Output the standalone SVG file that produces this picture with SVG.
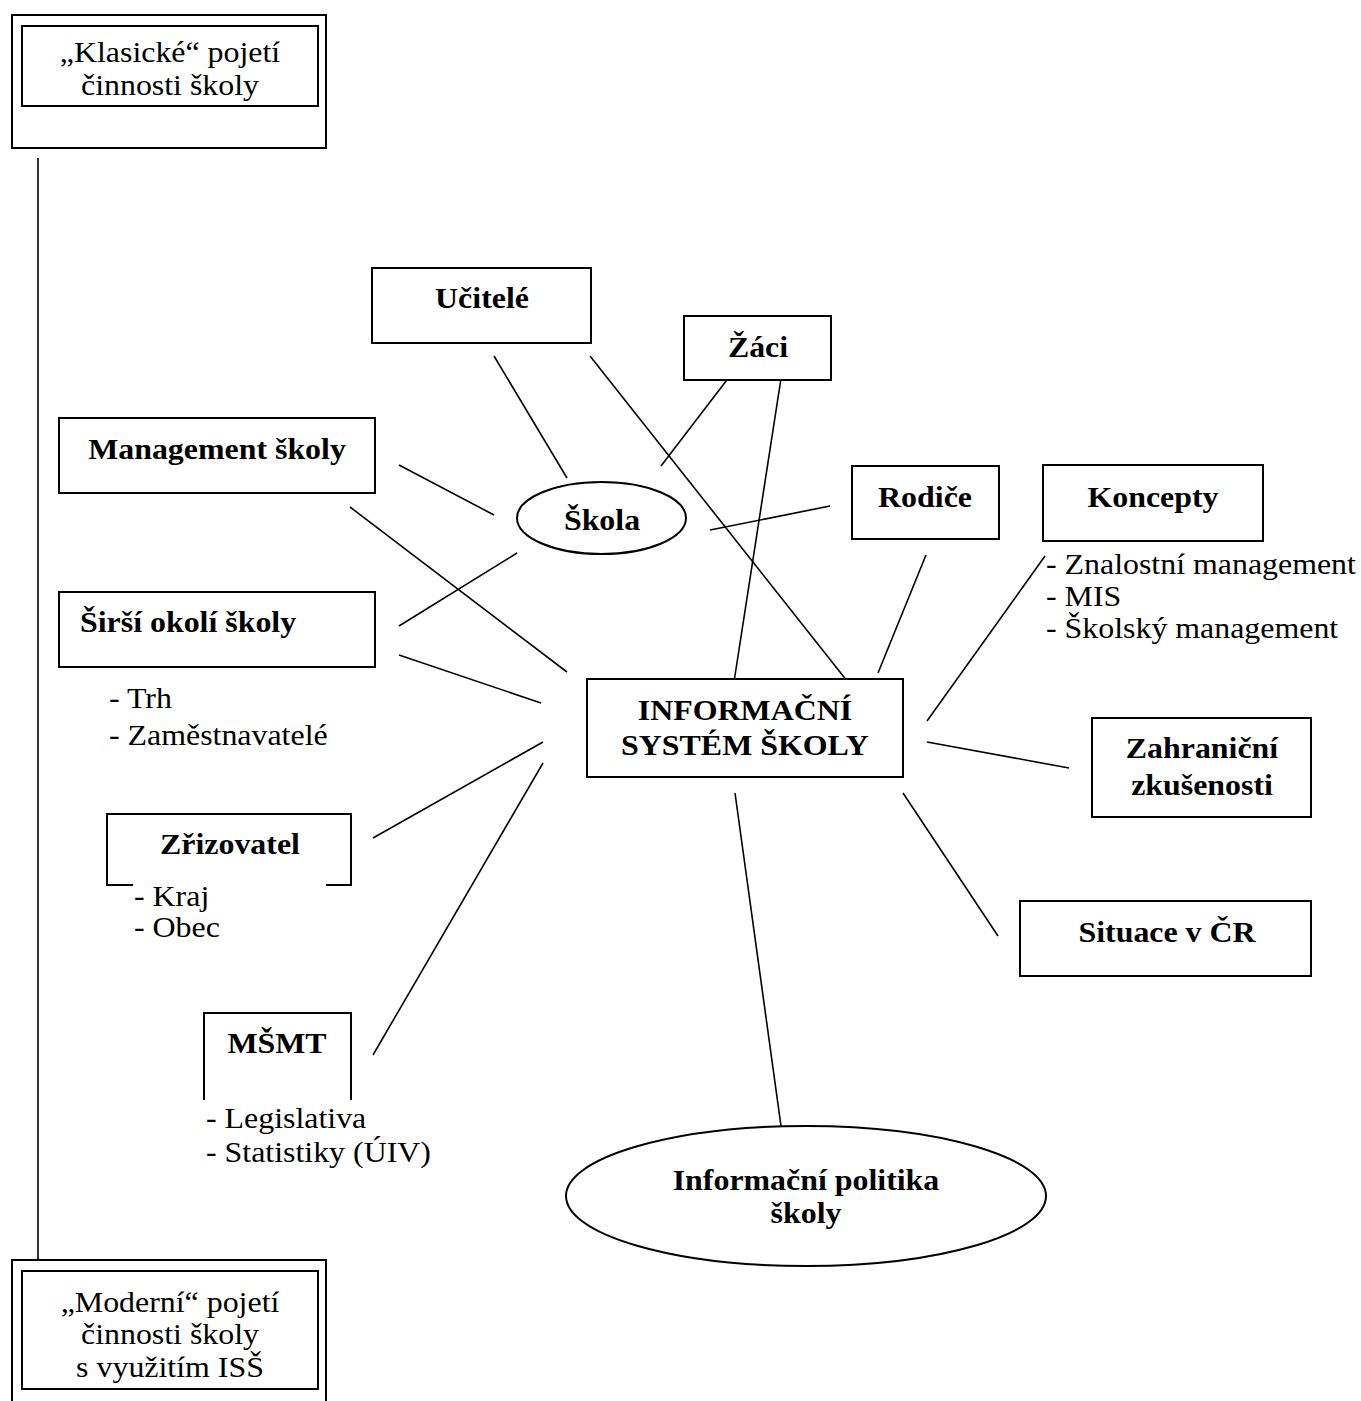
<svg xmlns="http://www.w3.org/2000/svg" width="1361" height="1401" viewBox="0 0 1361 1401">
  <style>
    .box { fill: #fff; stroke: #000; stroke-width: 2; }
    .open { fill: none; stroke: #000; stroke-width: 2; }
    .ln { stroke: #000; stroke-width: 1.6; fill: none; }
    text { font-family: "Liberation Serif", "Times New Roman", serif; font-size: 29px; fill: #000; }
    .b { font-weight: bold; }
    .c { text-anchor: middle; }
  </style>
  <rect width="1361" height="1401" fill="#fff"/>

  <!-- timeline from classic to modern view -->
  <g id="timeline">
    <line class="ln" x1="38" y1="158" x2="38" y2="1260"/>
  </g>

  <!-- all labels use a slightly widened serif face: matrix(1.1 0 0 1 x y) -->
  <g id="klasicke">
    <rect class="box" x="12" y="15" width="314" height="133"/>
    <rect class="box" x="22" y="26" width="296" height="80"/>
    <text class="c" transform="matrix(1.1 0 0 1 170 62)">„Klasické“ pojetí</text>
    <text class="c" transform="matrix(1.1 0 0 1 170 95)">činnosti školy</text>
  </g>

  <g id="moderni">
    <rect class="box" x="12" y="1260" width="314" height="160"/>
    <rect class="box" x="22" y="1271" width="296" height="118"/>
    <text class="c" transform="matrix(1.1 0 0 1 170 1312)">„Moderní“ pojetí</text>
    <text class="c" transform="matrix(1.1 0 0 1 170 1344)">činnosti školy</text>
    <text class="c" transform="matrix(1.1 0 0 1 170 1377)">s využitím ISŠ</text>
  </g>

  <!-- connectors -->
  <g id="connectors">
    <line class="ln" x1="494" y1="356" x2="567" y2="478"/>
    <line class="ln" x1="590" y1="356" x2="855" y2="691"/>
    <line class="ln" x1="733" y1="372" x2="661" y2="466"/>
    <line class="ln" x1="782" y1="372" x2="734" y2="682"/>
    <line class="ln" x1="399" y1="465" x2="494" y2="515"/>
    <line class="ln" x1="350" y1="507" x2="567" y2="672"/>
    <line class="ln" x1="399" y1="626" x2="517" y2="553"/>
    <line class="ln" x1="399" y1="655" x2="541" y2="703"/>
    <line class="ln" x1="710" y1="530" x2="830" y2="506"/>
    <line class="ln" x1="926" y1="555" x2="878" y2="673"/>
    <line class="ln" x1="1045" y1="556" x2="927" y2="721"/>
    <line class="ln" x1="927" y1="742" x2="1069" y2="768"/>
    <line class="ln" x1="903" y1="793" x2="998" y2="936"/>
    <line class="ln" x1="543" y1="742" x2="373" y2="838"/>
    <line class="ln" x1="543" y1="763" x2="373" y2="1055"/>
    <line class="ln" x1="735" y1="793" x2="781" y2="1126"/>
  </g>

  <g id="ucitele">
    <rect class="box" x="372" y="268" width="219" height="75"/>
    <text class="b c" transform="matrix(1.1 0 0 1 482 308)">Učitelé</text>
  </g>

  <g id="zaci">
    <rect class="box" x="684" y="316" width="147" height="64"/>
    <text class="b c" transform="matrix(1.1 0 0 1 758 357)">Žáci</text>
  </g>

  <g id="management">
    <rect class="box" x="59" y="418" width="316" height="75"/>
    <text class="b c" transform="matrix(1.1 0 0 1 217 459)">Management školy</text>
  </g>

  <g id="sirsi-okoli">
    <rect class="box" x="59" y="592" width="316" height="75"/>
    <text class="b" transform="matrix(1.1 0 0 1 80 632)">Širší okolí školy</text>
    <text transform="matrix(1.1 0 0 1 109 708)">- Trh</text>
    <text transform="matrix(1.1 0 0 1 109 745)">- Zaměstnavatelé</text>
  </g>

  <g id="skola">
    <ellipse class="box" cx="601.5" cy="518" rx="84.5" ry="36"/>
    <text class="b c" transform="matrix(1.1 0 0 1 602 530)">Škola</text>
  </g>

  <g id="rodice">
    <rect class="box" x="852" y="466" width="147" height="73"/>
    <text class="b c" transform="matrix(1.1 0 0 1 925 507)">Rodiče</text>
  </g>

  <g id="koncepty">
    <rect class="box" x="1043" y="465" width="220" height="76"/>
    <text class="b c" transform="matrix(1.1 0 0 1 1153 507)">Koncepty</text>
    <text transform="matrix(1.1 0 0 1 1046 574)">- Znalostní management</text>
    <text transform="matrix(1.1 0 0 1 1046 606)">- MIS</text>
    <text transform="matrix(1.1 0 0 1 1046 638)">- Školský management</text>
  </g>

  <g id="iss">
    <rect class="box" x="587" y="679" width="316" height="98"/>
    <text class="b c" transform="matrix(1.1 0 0 1 745 720)">INFORMAČNÍ</text>
    <text class="b c" transform="matrix(1.1 0 0 1 745 755)">SYSTÉM ŠKOLY</text>
  </g>

  <g id="zahranicni">
    <rect class="box" x="1092" y="718" width="219" height="99"/>
    <text class="b c" transform="matrix(1.1 0 0 1 1202 758)">Zahraniční</text>
    <text class="b c" transform="matrix(1.1 0 0 1 1202 795)">zkušenosti</text>
  </g>

  <g id="situace">
    <rect class="box" x="1020" y="901" width="291" height="75"/>
    <text class="b c" transform="matrix(1.1 0 0 1 1167 942)">Situace v ČR</text>
  </g>

  <g id="zrizovatel">
    <path class="open" d="M133 885 H107 V814 H351 V885 H326"/>
    <text class="b c" transform="matrix(1.1 0 0 1 230 854)">Zřizovatel</text>
    <text transform="matrix(1.1 0 0 1 134 906)">- Kraj</text>
    <text transform="matrix(1.1 0 0 1 134 937)">- Obec</text>
  </g>

  <g id="msmt">
    <path class="open" d="M204 1100 V1013 H351 V1100"/>
    <text class="b c" transform="matrix(1.1 0 0 1 277 1053)">MŠMT</text>
    <text transform="matrix(1.1 0 0 1 206 1128)">- Legislativa</text>
    <text transform="matrix(1.1 0 0 1 206 1162)">- Statistiky (ÚIV)</text>
  </g>

  <g id="informacni-politika">
    <ellipse class="box" cx="806" cy="1196" rx="240" ry="70"/>
    <text class="b c" transform="matrix(1.1 0 0 1 806 1190)">Informační politika</text>
    <text class="b c" transform="matrix(1.1 0 0 1 806 1223)">školy</text>
  </g>
</svg>
